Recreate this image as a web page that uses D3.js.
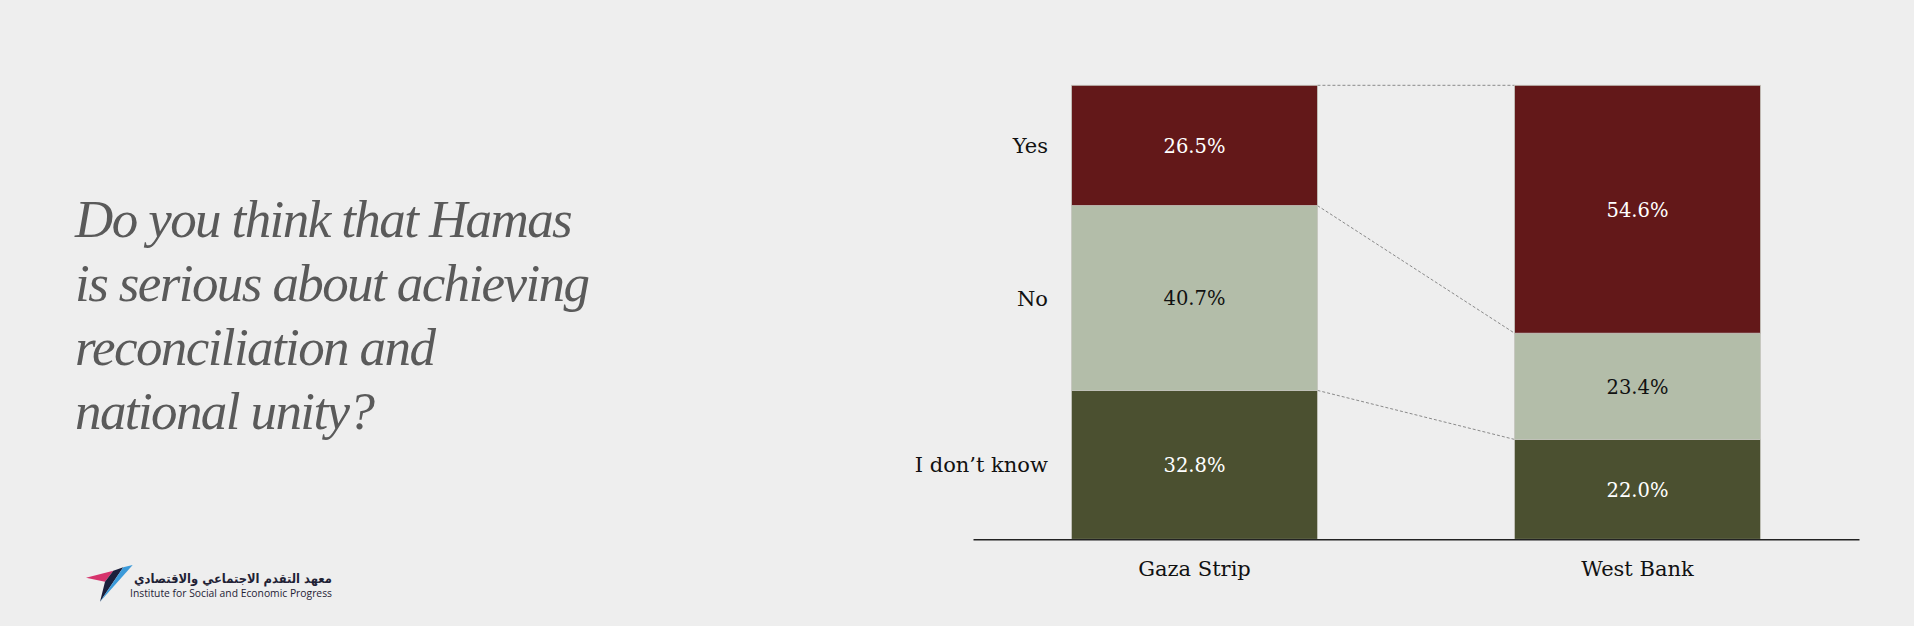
<!DOCTYPE html>
<html>
<head>
<meta charset="utf-8">
<script src="https://cdn.jsdelivr.net/npm/d3@7"></script>
<style>
  html, body { margin: 0; padding: 0; background: #eeeeee; }
  svg { display: block; }
</style>
</head>
<body>
<svg width="1914" height="626"></svg>
<script>
// Chart data
const regions = ["Gaza Strip", "West Bank"];
const answers = ["Yes", "No", "I don’t know"];
const yesValues = [26.5, 54.6];
const noValues = [40.7, 23.4];
const dontKnowValues = [32.8, 22.0];

const titleLines = ["Do you think that Hamas", "is serious about achieving", "reconciliation and", "national unity?"];

const colors = ["#631819", "#b3bda9", "#4b5030"];
const labelColors = ["#ffffff", "#111111", "#ffffff"];

const svg = d3.select("svg"),
    width = +svg.attr("width"),
    height = +svg.attr("height");

// Chart area
const plot = { left: 973, right: 1859, top: 85.3, bottom: 539.3 };

// Build rows for the stack: one row per region
const rows = regions.map((r, i) => ({
    region: r,
    "Yes": yesValues[i],
    "No": noValues[i],
    "I don’t know": dontKnowValues[i]
}));

// Stack from the bottom: I don't know, No, Yes
const stackKeys = answers.slice().reverse();
const series = d3.stack().keys(stackKeys)(rows);

const x = d3.scaleBand()
    .domain(regions)
    .range([plot.left, plot.right])
    .paddingInner(0.445)
    .paddingOuter(0.2225);

const y = d3.scaleLinear()
    .domain([0, 100])
    .range([plot.bottom, plot.top]);

const colorOf = d3.scaleOrdinal().domain(answers).range(colors);
const textOf = d3.scaleOrdinal().domain(answers).range(labelColors);

const g = svg.append("g");

// Dashed connectors between the bars (top of each segment)
const connectors = g.append("g");
series.forEach(s => {
    connectors.append("line")
        .attr("x1", x(regions[0]) + x.bandwidth())
        .attr("x2", x(regions[1]))
        .attr("y1", y(s[0][1]))
        .attr("y2", y(s[1][1]))
        .attr("stroke", "#8a8a8a")
        .attr("stroke-width", 1)
        .attr("stroke-dasharray", "3,2");
});

// Bars
const layer = g.selectAll(".layer")
    .data(series)
    .join("g")
    .attr("class", "layer")
    .attr("fill", d => colorOf(d.key));

layer.selectAll("rect")
    .data(d => d.map(v => Object.assign(v, { key: d.key })))
    .join("rect")
    .attr("x", d => x(d.data.region))
    .attr("width", x.bandwidth())
    .attr("y", d => y(d[1]))
    .attr("height", d => y(d[0]) - y(d[1]))
    .attr("stroke", "#c4c4bc")
    .attr("stroke-width", 0.8);

// Value labels
layer.selectAll("text")
    .data(d => d)
    .join("text")
    .attr("x", d => x(d.data.region) + x.bandwidth() / 2)
    .attr("y", d => (y(d[0]) + y(d[1])) / 2)
    .attr("dy", "0.38em")
    .attr("text-anchor", "middle")
    .attr("font-family", "DejaVu Serif")
    .attr("font-size", 19.5)
    .attr("fill", d => textOf(d.key))
    .text(d => (d[1] - d[0]).toFixed(1) + "%");

// Answer labels on the left, aligned to Gaza segments
g.append("g").selectAll("text")
    .data(series)
    .join("text")
    .attr("x", 1048)
    .attr("y", s => (y(s[0][0]) + y(s[0][1])) / 2)
    .attr("dy", "0.36em")
    .attr("text-anchor", "end")
    .attr("font-family", "DejaVu Serif")
    .attr("font-size", 21)
    .attr("fill", "#111")
    .text(s => s.key);

// Baseline axis
const xAxis = g.append("g")
    .attr("transform", `translate(0,${plot.bottom})`)
    .call(d3.axisBottom(x).tickSize(0).tickPadding(22));
xAxis.select(".domain").attr("stroke", "#222").attr("stroke-width", 1.5);
xAxis.selectAll("text")
    .attr("font-family", "DejaVu Serif")
    .attr("font-size", 21)
    .attr("fill", "#111");

// Question title
svg.append("g").selectAll("text")
    .data(titleLines)
    .join("text")
    .attr("x", 75)
    .attr("y", (d, i) => 236.7 + i * 64.2)
    .attr("font-family", "Liberation Serif")
    .attr("font-style", "italic")
    .attr("font-size", 53)
    .attr("letter-spacing", "-1.6px")
    .attr("fill", "#5a5a5a")
    .text(d => d);

// Logo
const logo = svg.append("g");
logo.append("path").attr("d", "M86,577.7 L113.3,570.7 L105,581.7 Z").attr("fill", "#d6336c");
logo.append("path").attr("d", "M113.3,570.7 L123.3,567.3 L100,601.7 L105,581.7 Z").attr("fill", "#1b1f3b");
logo.append("path").attr("d", "M123.3,567.3 L132.7,565 L100,601.7 Z").attr("fill", "#3b9ad9");
logo.append("text")
    .attr("x", 332)
    .attr("y", 583)
    .attr("text-anchor", "end")
    .attr("font-family", "DejaVu Sans")
    .attr("font-weight", "bold")
    .attr("font-size", 13)
    .attr("textLength", 198)
    .attr("lengthAdjust", "spacingAndGlyphs")
    .attr("fill", "#1f2235")
    .text("معهد التقدم الاجتماعي والاقتصادي");
logo.append("text")
    .attr("x", 130)
    .attr("y", 597)
    .attr("font-family", "Open Sans")
    .attr("font-size", 11.5)
    .attr("textLength", 202)
    .attr("lengthAdjust", "spacingAndGlyphs")
    .attr("fill", "#1f2235")
    .text("Institute for Social and Economic Progress");
</script>
</body>
</html>
